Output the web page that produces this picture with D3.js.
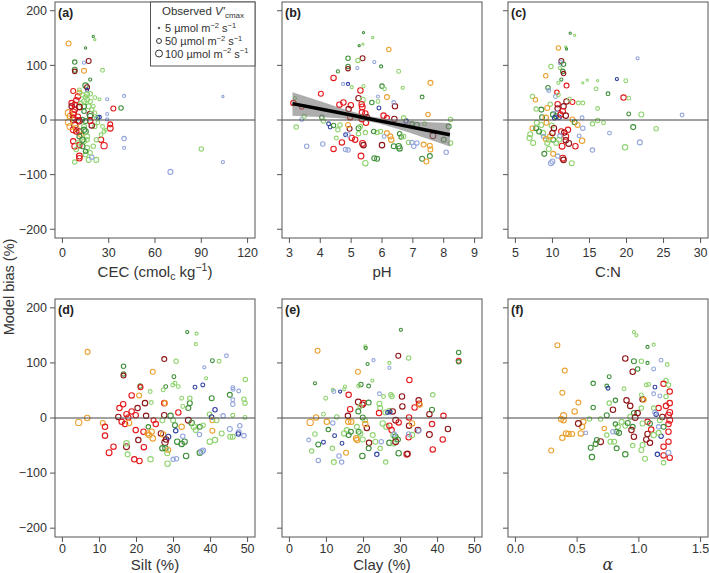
<!DOCTYPE html>
<html><head><meta charset="utf-8">
<script src="https://cdn.jsdelivr.net/npm/d3@7"></script>
<style>
body{margin:0;background:#fff;}
svg{display:block;font-family:"Liberation Sans",Arial,Helvetica,sans-serif;}
</style></head>
<body>
<svg id="chart" width="709" height="573"></svg>
<script>
// ---- data: [x, model bias %, observed V'cmax, group] ----
const groupColors = ["#e3191c","#8e1518","#eba131","#8fd36f","#3f8f3a","#93a5dc","#2f3f9e"];

const cecPoints = [
[4,140,50,2],[20,153,10,4],[21,147,10,3],[15,132,10,4],[8,106,40,4],[8,92,50,4],[8,89,40,1],[17,108,50,1],[14,90,50,2],[14,105,20,5],[26,91,30,3],[18,74,20,4],[7,53,50,0],[15,63,60,4],[16,60,50,1],[11,50,50,2],[11,55,30,3],[16,55,20,6],[21,41,30,3],[24,38,20,3],[29,38,20,5],[40,44,20,5],[38,22,40,4],[33,21,50,0],[29,11,20,5],[29,1,20,5],[23,5,30,6],[24,5,30,6],[31,-8,50,0],[31,-15,70,0],[40,-34,40,5],[40,-51,20,5],[90,-53,40,3],[70,-95,50,5],[104,-77,20,5],[104,43,10,5],[27,-47,80,0],[25,-36,60,0],[22,-73,50,3],[17,-73,50,3],[8,-77,40,3],[11,-66,70,0],[11,-70,60,0],[8,-48,70,0],[7,-39,60,0],[19,-68,40,5],[11,-46,60,0],
[6,31,60,0],[8,19,70,0],[7,10,70,0],[7,0,70,0],[9,36,60,0],[11,24,70,0],[7,4,60,1],[8,-9,80,1],[7,-18,70,0],[9,-15,60,2],[5,-12,80,2],[4,-4,80,2],[4,13,90,2],[5,7,70,2],[10,6,60,0],[11,-21,60,1],[12,-27,50,2],[14,-12,50,3],[15,-21,60,4],[16,-30,50,3],[16,-36,40,3],[18,10,80,1],[18,7,60,4],[17,25,50,3],[16,37,50,3],[18,34,40,3],[19,19,40,3],[20,25,30,3],[21,13,30,3],[22,4,30,3],[23,-5,30,3],[21,-12,40,3],[19,-10,60,1],[18,-2,60,0],[15,-2,50,4],[13,1,40,4],[14,16,40,4],[14,25,50,4],[12,30,50,3],[14,34,50,3],[15,42,40,3],[18,48,40,3],[16,47,50,3],[14,-39,50,3],[16,-51,50,3],[18,-60,40,3],[15,-63,50,3],[20,-48,40,3],[22,-36,40,3],[25,-27,30,3],[27,-21,30,3],[26,-12,30,3],[28,-18,20,3],[15,-57,40,4],[13,-48,50,4],[13,-36,60,4],[11,-30,50,4],[10,-42,40,3],[9,-54,40,3],[14,-18,60,4],[11,-2,70,1],[9,-21,60,0],[10,-1,70,0],[6,25,60,1],[8,28,60,0],[10,43,60,0],[13,46,40,3],[11,24,60,1],[7,14,90,0]
];

const phPoints = [
[5.4,160,10,4],[5.7,151,10,3],[5.26,136,10,4],[5.38,139,10,3],[6.22,129,40,2],[4.9,113,40,4],[4.9,98,40,4],[4.9,94,40,1],[5.37,113,50,1],[5.22,109,40,3],[5.75,106,20,5],[5.97,98,20,4],[5.2,95,20,5],[4.57,89,20,4],[6.54,89,30,3],[4.43,77,60,0],[4.74,66,20,5],[4.9,66,20,6],[5.3,54,60,0],[5.02,60,20,3],[5.4,62,20,3],[4.02,48,50,0],[6.0,62,40,4],[6.08,57,30,3],[6.67,59,20,3],[7.57,68,50,2],[7.3,42,30,4],[6.16,42,50,2],[5.87,43,20,5],[5.24,40,60,1],[5.38,37,50,3],[4.75,32,60,0],[4.62,28,60,0],[4.99,27,60,0],[5.67,32,40,4],[5.34,29,60,0],[5.36,24,70,0],[6.42,25,60,1],[6.38,32,30,5],[5.87,34,30,3],[4.92,20,60,1],[4.97,5,60,0],[5.35,14,60,0],[5.46,12,60,0],[5.48,-5,60,0],[5.35,2,70,0],[6.05,8,60,0],[5.51,5,60,1],[6.4,2,60,1],[6.78,-2,40,6],[6.16,4,50,0],[6.7,4,40,3],[6.97,-7,40,4],[7.13,-9,50,4],[7.38,-7,30,3],[7.49,10,40,2],[7.65,-29,70,1],[8.0,-36,50,4],[8.16,-12,50,4],[8.22,1,40,3],[8.22,-42,40,3],[8.08,-59,40,5],[7.55,-47,50,2],[7.35,-45,50,2],[7.57,-54,50,2],[7.55,-66,50,4],[7.3,-71,50,4],[7.44,-76,50,2],[7.03,-48,40,5],[6.86,-41,40,3],[6.97,-41,40,5],[6.54,-48,60,4],[6.57,-52,60,4],[6.38,-48,50,4],[6.3,-36,60,2],[6.27,-30,50,2],[6.16,-24,50,2],[6.0,-46,60,1],[6.07,-30,30,5],[5.84,-23,40,3],[5.95,-21,40,3],[5.73,-21,40,4],[5.84,-71,50,4],[5.75,-70,50,4],[5.46,-79,60,3],[5.32,-66,70,0],[5.37,-43,70,0],[5.4,-46,60,1],[5.13,-36,60,0],[5.02,-33,60,0],[4.7,-41,60,0],[4.43,-53,60,0],[4.9,-55,40,5],[4.82,-54,40,5],[4.82,-27,30,6],[4.9,-27,40,5],[4.95,-16,50,1],[4.9,-9,50,2],[5.24,-15,50,4],[5.24,-25,40,3],[5.46,-23,40,3],[5.3,-12,40,3],[4.57,-18,40,3],[4.52,-33,30,3],[4.32,-13,30,6],[4.27,-7,30,6],[4.43,-10,40,4],[4.64,-9,40,3],[4.05,5,40,4],[4.1,-2,40,3],[3.4,1,30,5],[3.48,7,40,3],[3.22,-13,40,3],[3.18,40,20,3],[3.13,31,60,0],[3.4,24,40,0],[3.56,-48,40,5],[4.08,-44,40,5],[5.9,22,30,6],[7.13,-42,40,5],[6.57,-25,40,4],[6.62,-31,40,4],[6.7,-30,40,3]
];

const cnPoints = [
[12.4,159,10,4],[13,155,10,3],[10.8,132,40,2],[11.8,134,10,3],[11.9,130,10,4],[11.2,108,50,1],[11.1,105,40,5],[11.5,102,40,4],[9.8,98,40,3],[11,95,20,3],[11.4,89,40,4],[11.5,85,40,1],[9.1,81,40,2],[11.2,74,20,4],[10.8,68,20,3],[11.9,63,50,0],[14.1,68,10,3],[14.7,73,10,3],[16.1,72,10,3],[18.7,75,20,6],[19.9,72,30,3],[21.5,113,20,5],[9.4,59,40,4],[9.5,54,30,5],[10.6,51,40,0],[10.4,43,30,5],[10.8,46,30,3],[7.3,43,40,3],[7.7,37,40,2],[15.9,57,30,3],[17.5,48,30,4],[19.6,41,60,0],[20.3,40,30,3],[11.9,34,60,1],[12.7,33,50,0],[12.3,38,30,3],[10.7,29,60,0],[10.7,21,60,1],[11.5,25,60,1],[9.7,29,40,3],[9.3,22,50,2],[8.5,19,50,4],[7.8,20,40,3],[14.1,31,30,3],[13.5,31,30,3],[16.1,21,30,3],[10.1,10,60,4],[10.5,13,40,5],[10.5,7,50,4],[10.9,5,40,6],[10.3,4,40,6],[8.6,5,50,4],[9.1,4,60,2],[11.1,10,60,0],[11.4,16,60,0],[11.8,8,60,1],[12.7,1,50,2],[13,-4,50,4],[13.4,-9,50,2],[14,4,30,5],[14.1,-15,40,5],[15.4,-7,40,3],[16.1,-1,40,3],[16.9,-5,30,3],[22,10,50,3],[20.9,-13,50,4],[24,-16,40,3],[27.5,9,30,5],[20.3,11,30,4],[17.7,-24,30,5],[21.8,-41,50,5],[19.8,-50,60,3],[15.4,-55,40,5],[13.1,-48,60,0],[14,-38,60,2],[13.6,-29,30,5],[12.2,-43,70,1],[11.8,-30,70,0],[11.8,-37,60,1],[11.2,-21,60,0],[11.6,-23,60,1],[12.1,-18,60,0],[11.3,-48,70,0],[11.4,-70,70,0],[11.5,-73,60,1],[12.6,-79,50,3],[10,-76,50,5],[9.8,-79,50,5],[10.7,-66,40,5],[9.5,-53,50,3],[8.9,-62,50,4],[10.1,-62,50,2],[10.1,-36,50,4],[10.5,-42,50,3],[9.5,-36,50,3],[9.7,-30,60,2],[8.7,-24,60,3],[8.2,-21,50,4],[7,-26,50,3],[6.9,-33,50,3],[7.4,-42,50,3],[7.3,-15,50,2],[7.8,-15,50,4],[8.5,-9,50,3],[9.2,-5,50,2],[9.9,-10,50,3],[10.2,-15,60,1],[10,-24,60,1],[11,-29,40,5],[10.9,-36,50,3],[8.8,-30,40,5],[9.1,-35,50,2],[9.3,-42,50,3],[7.9,-5,50,3]
];

const siltPoints = [
[6.8,120,50,2],[4.4,-8,80,2],[6.7,0,60,2],[10.9,-9,50,2],[11.5,-16,60,0],[11.5,-32,60,0],[12.6,-63,70,0],[13.8,-52,60,0],[16.5,94,40,4],[16.5,80,40,4],[16.5,77,50,1],[21,58,40,4],[21.1,56,50,0],[18.7,41,60,0],[20.7,41,50,2],[16.4,25,60,0],[15.4,18,60,0],[15.1,2,60,1],[16,-7,60,0],[16.9,-11,60,0],[17.3,7,60,0],[17.8,1,60,0],[18,-9,60,2],[18.7,12,60,0],[19.8,5,60,0],[20.3,18,60,1],[19.8,-22,60,0],[20.5,-40,60,1],[17.3,-52,70,1],[17.3,-46,60,3],[17.6,-66,50,3],[19.4,-75,60,0],[20.8,-78,60,0],[22.3,27,60,1],[22.6,4,60,1],[21.9,-25,60,0],[23,-28,60,2],[23.4,-31,60,2],[22,-53,60,0],[24.1,-25,60,2],[24.4,-37,60,2],[23.2,-16,40,4],[24.4,84,50,2],[24,28,30,3],[23.7,48,30,3],[23.8,-75,60,3],[24.6,-4,50,0],[25.2,-11,60,0],[27.5,107,50,1],[27.5,27,60,0],[27.7,27,50,2],[27.5,5,60,1],[27,-4,50,3],[26.6,-28,60,1],[27.2,-30,60,2],[27.7,-44,80,1],[28,-39,60,1],[27,-55,60,4],[27.8,-55,60,4],[28.4,-83,60,3],[28.3,-64,50,3],[28.6,-34,50,6],[28.6,-58,50,2],[27.9,57,30,4],[27.2,51,30,3],[30.7,103,40,3],[30.1,75,30,4],[30.4,63,30,3],[29.8,60,30,3],[31.3,57,30,3],[32.2,36,30,3],[32.5,21,30,3],[31.3,10,60,0],[32.2,-16,60,2],[29.2,4,60,4],[29.9,-4,50,3],[30.4,-13,50,4],[31,-43,60,4],[32.2,-47,60,4],[33,-43,60,4],[30.6,-23,40,6],[32.5,-33,40,5],[29.9,-75,40,5],[30.8,-74,40,5],[33.4,-69,60,4],[33.7,156,20,4],[36.2,153,20,3],[36,134,20,3],[35.8,56,30,6],[37.9,60,30,6],[38.3,92,20,5],[38.8,72,20,3],[34.4,27,50,4],[34,18,50,4],[34.4,36,40,3],[34,-4,70,1],[34.9,-9,60,4],[35.5,-16,60,3],[36,-22,50,3],[37.1,-16,50,4],[38,-13,40,3],[37,-30,40,5],[37.1,-63,60,4],[37.6,-61,60,5],[38,-59,50,5],[39.7,7,40,3],[40.3,2,40,6],[40.3,36,50,4],[40.5,104,30,4],[40.5,-4,50,2],[40.5,-23,50,2],[39.8,-43,60,3],[41.2,-40,60,3],[41.6,-4,50,3],[41.2,15,40,6],[42.3,103,30,3],[44.3,113,30,5],[43.4,4,40,5],[45.2,-20,50,5],[45.2,42,50,4],[46.1,52,30,5],[46,-34,50,3],[46,5,30,3],[43,-28,50,3],[49.4,70,40,3],[47.6,49,30,5],[46,55,30,5],[46,33,30,5],[46,25,40,5],[49,34,40,3],[49.3,27,40,3],[49.3,1,30,3],[47.9,-14,40,5],[47.6,-26,50,5],[47.5,-29,40,6],[49,-32,40,5],[45.3,-34,50,3]
];

const clayPoints = [
[30.1,160,20,4],[20.5,130,20,3],[20.6,127,20,4],[7.6,122,50,2],[22.7,105,20,5],[21.1,98,20,4],[29.4,113,50,1],[32.2,109,40,3],[18.5,84,50,2],[27,100,20,3],[27,91,20,5],[45.7,119,40,4],[45.7,104,50,0],[45.7,102,40,4],[6.9,63,20,4],[22.4,68,20,3],[32.4,69,60,0],[11.7,51,20,3],[12,48,30,5],[13.7,48,20,6],[15,57,20,3],[14.8,52,20,3],[19.3,61,40,4],[18.7,58,30,3],[21.4,58,30,4],[9.8,36,30,3],[16,42,60,0],[24.3,44,30,5],[25.4,39,30,3],[27.4,42,40,3],[27.7,39,40,3],[30.4,39,60,1],[38.7,42,40,3],[18.6,29,70,1],[19.7,24,60,1],[20,27,60,0],[21.4,28,50,4],[19.1,21,40,3],[16.4,16,60,0],[18.6,12,50,4],[24.3,26,50,3],[24.5,18,50,3],[24.2,9,60,0],[25.9,10,50,3],[27,13,50,3],[27.9,12,60,1],[26.5,10,30,6],[27.2,11,30,6],[30.5,21,60,1],[33.8,19,60,0],[34.9,32,60,1],[35,26,60,0],[35.2,24,50,2],[38.5,15,50,4],[37.8,7,60,1],[41.6,4,60,0],[15.8,4,60,1],[12.8,2,40,3],[7.2,1,60,2],[5.6,-8,80,2],[10.1,-7,60,2],[9.2,7,30,3],[11.7,-9,40,5],[10.5,-21,40,4],[6.9,-29,40,3],[12.2,-32,30,6],[5.2,-40,30,5],[7.8,-48,50,4],[9.2,-44,30,6],[6,-60,40,3],[7.8,-77,40,5],[11.6,-55,40,3],[14.2,-46,30,6],[13.4,-69,40,5],[14.1,-80,40,5],[12,-80,50,3],[15.3,-63,50,2],[14.8,-28,60,3],[16,-31,50,4],[15.5,-22,50,3],[16.6,-25,50,4],[15.9,-7,60,2],[16.7,-7,60,2],[18.2,-16,50,3],[18.7,-25,50,4],[18,-37,60,2],[18.3,-40,60,2],[19.1,-28,60,3],[19.8,-39,50,3],[19.7,-69,60,4],[19.8,1,50,4],[20.4,-4,50,3],[20.9,-18,60,1],[20.5,-11,60,2],[21.5,-45,60,1],[21.4,-55,50,4],[22.5,-31,50,3],[23.2,-43,50,3],[23.6,-66,40,6],[24.5,-55,40,3],[24.8,-43,40,5],[26,-80,40,3],[25.2,-10,60,3],[26.2,-16,60,3],[27,-14,60,0],[27.6,-22,60,0],[27,-45,60,4],[28.1,-46,60,3],[28.1,-31,60,3],[28.6,-34,60,4],[28.7,-4,70,1],[29.5,-8,60,0],[28.7,-43,70,1],[29.3,-39,50,4],[29.5,-64,60,4],[28.3,-29,40,5],[31.7,-66,70,0],[31.9,-65,60,1],[32.2,-35,60,0],[33.1,-31,60,3],[32.3,-14,60,1],[33.1,-10,60,2],[32.3,1,60,0],[32.2,-29,40,5],[34.7,-22,70,1],[34.9,-23,40,5],[37.8,-30,70,1],[38.5,-11,60,0],[38.7,-57,60,0],[41.4,-39,60,0],[42.8,-20,60,1]
];

const alphaPoints = [
[0.34,132,50,2],[0.29,-59,50,2],[0.4,86,50,2],[0.38,46,50,2],[0.51,28,50,2],[0.48,12,60,2],[0.39,4,80,2],[0.37,-2,60,2],[0.39,-4,60,2],[0.55,-7,60,2],[0.54,-16,60,2],[0.53,-28,60,2],[0.41,-28,60,2],[0.43,-29,60,2],[0.46,-29,50,2],[0.38,-36,60,2],[0.57,-27,30,5],[0.51,-10,70,1],[0.63,63,40,4],[0.63,19,40,4],[0.6,-2,40,3],[0.69,-2,40,3],[0.74,5,50,4],[0.72,-19,40,2],[0.76,75,30,4],[0.74,58,30,4],[0.75,54,30,6],[0.76,27,40,3],[0.81,32,40,4],[0.79,15,60,1],[0.88,53,30,3],[0.9,32,60,1],[0.93,22,60,1],[0.89,108,60,1],[0.96,103,50,4],[0.95,84,60,1],[0.99,89,40,4],[0.96,156,20,3],[0.98,150,20,3],[1.07,129,20,4],[1.12,133,20,3],[1.02,103,40,3],[1.07,100,20,4],[1.18,105,30,5],[1.12,89,30,5],[1.23,97,30,3],[1.06,60,30,3],[1.08,61,30,3],[1.03,34,60,1],[1.04,33,50,2],[1.02,42,30,3],[1.22,68,40,3],[1.2,62,60,0],[1.24,60,40,3],[1.25,48,60,0],[1.13,56,30,6],[1.12,44,30,5],[1.17,40,30,5],[1.22,39,40,3],[1.25,27,60,0],[1.22,22,60,0],[1.16,18,60,0],[1.12,18,40,3],[1.25,10,70,0],[1.24,5,70,0],[1.25,-4,70,0],[1.24,-11,60,0],[1.19,2,60,1],[1.2,-16,50,4],[1.14,7,40,6],[1.13,10,40,5],[1.17,-4,50,3],[1.16,-16,40,5],[1.18,-33,40,6],[1.16,-27,50,3],[1.24,-25,60,0],[1.24,-43,60,0],[1.2,-52,60,0],[1.2,-68,60,0],[1.25,-72,60,0],[1.24,-63,50,5],[1.15,-66,40,6],[1.2,-81,40,3],[1.05,-74,50,3],[1.02,-58,50,3],[1.03,-49,50,3],[1.09,-45,60,1],[1.07,-29,60,1],[1.06,-39,60,1],[1.1,-21,60,0],[1.12,-31,60,3],[1.07,-7,60,0],[1.09,-10,50,4],[0.96,-34,60,1],[0.95,-16,50,4],[0.95,-50,40,3],[0.94,-22,60,1],[0.89,-66,60,4],[0.96,9,50,4],[0.93,2,50,3],[0.97,1,70,1],[0.99,9,60,1],[0.86,-7,50,3],[0.89,-14,50,3],[0.91,-9,50,4],[0.83,-16,50,3],[0.81,-11,40,4],[0.82,-25,50,4],[0.84,-27,50,4],[0.79,-25,40,5],[0.77,-43,50,3],[0.8,-43,50,3],[0.82,-55,50,4],[0.69,-43,70,1],[0.66,-40,50,4],[0.65,-47,50,4],[0.61,-54,50,4],[0.62,-71,60,4],[0.74,-31,40,3],[1.02,18,40,3],[1.03,-10,50,3]
];

// fitted regression of bias on pH with confidence band
const fitPH    = [3.1, 4.0, 5.0, 5.7, 6.5, 7.3, 8.2];
const fitMean  = [30, 20, 9, 1, -8, -17, -27];
const fitLower = [8, 5.5, 1.5, -4, -16, -31, -48.5];
const fitUpper = [51, 34.5, 16, 6, 0, -3, -5.5];

const biasTicks = [-200, -100, 0, 100, 200];
const biasRange = [-200, 200];
const legendValues = [5, 50, 100];
const panelLabels = ["(a)","(b)","(c)","(d)","(e)","(f)"];
const xRanges = [[0,120],[3,9],[5,30],[0,50],[0,50],[0,1.5]];
const xTicks = [[0,30,60,90,120],[3,4,5,6,7,8,9],[5,10,15,20,25,30],[0,10,20,30,40,50],[0,10,20,30,40,50],[0,0.5,1,1.5]];

// ---- layout ----
const svg = d3.select("#chart");
const cols = [[55,255],[282,482],[508,708]];
const rows = [[2,238],[299,537]];
const tickLabelY = [256.5, 553];
const titleY = [277, 570];
const pad = r => { const d = r[1]-r[0]; return [r[0]-0.04*d, r[1]+0.04*d]; };
const rScale = v => 0.35*Math.sqrt(v);
const ink = "#333";

const datasets = [cecPoints, phPoints, cnPoints, siltPoints, clayPoints, alphaPoints];
const tickFormats = [d3.format("d"), d3.format("d"), d3.format("d"), d3.format("d"), d3.format("d"), d3.format(".1f")];

function addTitle(g, i, cx, y){
  const t = g.append("text").attr("x",cx).attr("y",y).attr("text-anchor","middle")
    .attr("font-size",15).attr("fill",ink);
  if(i===0){
    t.append("tspan").text("CEC (cmol");
    t.append("tspan").attr("font-size",10.5).attr("dy",3).text("c");
    t.append("tspan").attr("dy",-3).text(" kg");
    t.append("tspan").attr("font-size",10.5).attr("dy",-6).text("\u22121");
    t.append("tspan").attr("dy",6).text(")");
  } else if(i===1) t.text("pH");
  else if(i===2) t.text("C:N");
  else if(i===3) t.text("Silt (%)");
  else if(i===4) t.text("Clay (%)");
  else { t.attr("font-style","italic").attr("font-family","'DejaVu Serif',serif").attr("font-size",16).text("\u03b1"); }
}

datasets.forEach((data,i)=>{
  const col = i%3, row = Math.floor(i/3);
  const x = d3.scaleLinear().domain(pad(xRanges[i])).range(cols[col]);
  const y = d3.scaleLinear().domain(pad(biasRange)).range([rows[row][1], rows[row][0]]);
  const g = svg.append("g");

  // points
  g.append("g").selectAll("circle").data(data).join("circle")
    .attr("cx",d=>x(d[0])).attr("cy",d=>y(d[1])).attr("r",d=>rScale(d[2]))
    .attr("fill","none").attr("stroke",d=>groupColors[d[3]]).attr("stroke-width",1.1);

  // zero line
  g.append("line").attr("x1",cols[col][0]).attr("x2",cols[col][1])
    .attr("y1",y(0)).attr("y2",y(0)).attr("stroke","#444").attr("stroke-width",1);

  if(i===1){
    const band = fitPH.map((p,k)=>({p, lo:fitLower[k], hi:fitUpper[k], m:fitMean[k]}));
    g.append("path").datum(band)
      .attr("d", d3.area().x(d=>x(d.p)).y0(d=>y(d.lo)).y1(d=>y(d.hi)).curve(d3.curveMonotoneX))
      .attr("fill","#7a7a7a").attr("fill-opacity",0.62);
    g.append("path").datum(band)
      .attr("d", d3.line().x(d=>x(d.p)).y(d=>y(d.m)))
      .attr("fill","none").attr("stroke","#000").attr("stroke-width",3.5);
  }

  // box
  g.append("rect").attr("x",cols[col][0]).attr("y",rows[row][0])
    .attr("width",cols[col][1]-cols[col][0]).attr("height",rows[row][1]-rows[row][0])
    .attr("fill","none").attr("stroke","#555").attr("stroke-width",1);

  // x axis
  xTicks[i].forEach(t=>{
    g.append("line").attr("x1",x(t)).attr("x2",x(t)).attr("y1",rows[row][1]).attr("y2",rows[row][1]+5)
      .attr("stroke","#555");
    g.append("text").attr("x",x(t)).attr("y",tickLabelY[row]).attr("text-anchor","middle")
      .attr("font-size",12.5).attr("fill",ink).text(tickFormats[i](t));
  });
  // y axis
  biasTicks.forEach(t=>{
    g.append("line").attr("x1",cols[col][0]-5).attr("x2",cols[col][0]).attr("y1",y(t)).attr("y2",y(t))
      .attr("stroke","#555");
    if(col===0) g.append("text").attr("x",cols[col][0]-8).attr("y",y(t)+4.3).attr("text-anchor","end")
      .attr("font-size",12.5).attr("fill",ink).text(d3.format("d")(t).replace("-","\u2212"));
  });

  addTitle(g, i, (cols[col][0]+cols[col][1])/2, titleY[row]);

  g.append("text").attr("x",cols[col][0]+3).attr("y",rows[row][0]+15)
    .attr("font-size",12.5).attr("font-weight","bold").attr("fill","#222").text(panelLabels[i]);
});

// y title
svg.append("text").attr("transform","translate(14,287) rotate(-90)").attr("text-anchor","middle")
  .attr("font-size",14.5).attr("fill",ink).text("Model bias (%)");

// legend in panel a
const lg = svg.append("g");
lg.append("rect").attr("x",150.5).attr("y",2).attr("width",104.5).attr("height",64)
  .attr("fill","#fff").attr("stroke","#555");
const lt = lg.append("text").attr("x",203).attr("y",15).attr("text-anchor","middle").attr("font-size",11.5).attr("fill",ink);
lt.append("tspan").text("Observed ");
lt.append("tspan").attr("font-style","italic").text("V\u2032");
lt.append("tspan").attr("font-size",8).attr("dy",3).text("cmax");
const rowY = [28, 41, 53.5];
legendValues.forEach((v,k)=>{
  lg.append("circle").attr("cx",159).attr("cy",rowY[k]).attr("r",rScale(v))
    .attr("fill","none").attr("stroke","#333").attr("stroke-width",1);
  const t = lg.append("text").attr("x",165).attr("y",rowY[k]+4).attr("font-size",11).attr("fill",ink);
  t.append("tspan").text(v+" \u00b5mol m");
  t.append("tspan").attr("font-size",7.5).attr("dy",-4.5).text("\u22122");
  t.append("tspan").attr("dy",4.5).text(" s");
  t.append("tspan").attr("font-size",7.5).attr("dy",-4.5).text("\u22121");
});
</script>
</body></html>
